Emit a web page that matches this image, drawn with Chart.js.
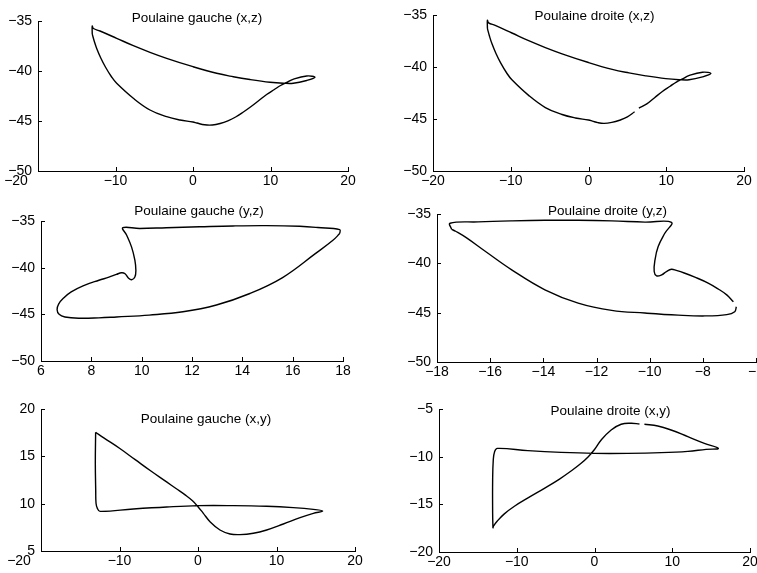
<!DOCTYPE html>
<html>
<head>
<meta charset="utf-8">
<script src="https://cdn.jsdelivr.net/npm/chart.js"></script>
<style>
  body { margin: 0; background: #fff; }
  #fig { position: relative; width: 757px; height: 573px; overflow: hidden; }
  #fig canvas { position: absolute; }
</style>
</head>
<body>
<div id="fig">
  <canvas id="c1"></canvas>
  <canvas id="c2"></canvas>
  <canvas id="c3"></canvas>
  <canvas id="c4"></canvas>
  <canvas id="c5"></canvas>
  <canvas id="c6"></canvas>
</div>
<script>
// Left foot, (x,z) view
var gaucheXZ_x = [-13.0, -13.0, -12.85, -12.0, -9.85, -7.7, -5.55, -3.4, 0, 3.05, 5.2, 7.35, 9.94, 11.65, 12.94, 14.67, 15.74,
                  14.67, 12.9, 12.1, 11.3, 10.5, 9.5, 8.5, 7.5, 6.5, 5.5, 4.5, 3.5, 2.5, 1.5, 0.5, 0, -1.68, -3.4, -5.55, -7.7, -9.85,
                  -10.5, -11.3, -11.9, -12.4, -12.75, -12.95, -13.0];
var gaucheXZ_z = [-36.3, -35.5, -35.75, -36.0, -36.73, -37.47, -38.13, -38.73, -39.57, -40.23, -40.57, -40.85, -41.12, -41.22, -41.23, -40.95, -40.63,
                  -40.5, -40.83, -41.15, -41.45, -41.85, -42.35, -42.95, -43.55, -44.1, -44.6, -44.98, -45.25, -45.4, -45.38, -45.2, -45.1, -44.9, -44.57, -43.9, -42.73, -41.23,
                  -40.6, -39.6, -38.7, -37.8, -37.0, -36.45, -36.3];

// Right foot, (x,z) view (null = missing samples)
var droiteXZ_x = [-13.0, -13.0, -12.85, -12.0, -9.85, -7.7, -5.55, -3.4, 0, 3.05, 5.2, 7.35, 9.94, 11.65, 12.94, 14.67, 15.74,
                  14.67, 12.9, 12.1, 11.3, 10.5, 9.5, 8.5, 7.5, 6.48, null, 5.93, 5.0, 4.0, 3.0, 2.0, 1.2, 0.5, 0, -1.68, -3.4, -5.55, -7.7, -9.85,
                  -10.5, -11.3, -11.9, -12.4, -12.75, -12.95, -13.0];
var droiteXZ_z = [-36.3, -35.5, -35.75, -36.0, -36.73, -37.47, -38.13, -38.73, -39.57, -40.23, -40.57, -40.85, -41.12, -41.22, -41.23, -40.95, -40.63,
                  -40.5, -40.83, -41.15, -41.45, -41.85, -42.35, -42.95, -43.55, -43.95, null, -44.3, -44.8, -45.12, -45.33, -45.42, -45.35, -45.2, -45.1, -44.9, -44.57, -43.9, -42.73, -41.23,
                  -40.6, -39.6, -38.7, -37.8, -37.0, -36.45, -36.3];

// Left foot, (y,z) view
var gaucheYZ_y = [17.87, 17.87, 17.0, 16.28, 14.95, 13.63, 12.3, 10.98, 9.92, 9.25, 9.4, 9.6, 9.73, 9.77, 9.73, 9.6, 9.47, 9.34, 9.2,
                  9.0, 8.7, 8.3, 7.67, 7.2, 6.9, 6.7, 6.64, 6.72, 6.95, 7.5, 8.3, 9.0, 10.3, 11.64, 12.97, 14.3, 15.6, 16.9, 17.6, 17.87];
var gaucheYZ_z = [-36.35, -35.93, -35.7, -35.57, -35.5, -35.53, -35.62, -35.72, -35.8, -35.72, -36.5, -37.8, -39.2, -40.3, -41.0, -41.3, -41.1, -40.65, -40.55,
                  -40.72, -41.02, -41.35, -41.95, -42.6, -43.25, -43.9, -44.5, -45.0, -45.28, -45.42, -45.38, -45.28, -45.08, -44.73, -44.0, -42.77, -41.06, -38.5, -37.07, -36.35];

// Right foot, (y,z) view
var droiteYZ_y = [-17.45, -17.51, -16.45, -15.19, -13.94, -12.69, -11.43, -10.18, -9.18, -9.43, -9.68, -9.8, -9.83, -9.74, -9.55, -9.37, -9.18,
                  -9.0, -8.7, -8.3, -7.8, -7.42, -7.1, -6.85, null, -6.74, -6.8, -7.1, -7.92, -8.93, -10.18, -11.43, -12.69, -13.94, -15.19,
                  -16.2, -16.9, -17.3, -17.45];
var droiteYZ_z = [-36.55, -35.94, -35.8, -35.7, -35.64, -35.64, -35.7, -35.82, -35.84, -36.95, -38.3, -39.65, -40.83, -41.27, -41.17, -40.83, -40.6,
                  -40.72, -40.98, -41.4, -42.0, -42.6, -43.2, -43.9, null, -44.4, -44.9, -45.2, -45.33, -45.25, -45.04, -44.77, -44.03, -42.68, -40.66,
                  -38.75, -37.4, -36.75, -36.55];

// Left foot, (x,y) view
var gaucheXY_x = [-13.04, -13.08, -13.03, -12.99, -12.82, -12.48, -8.24, -4.0, 0, 4.5, 8.75, 12.14, 14.69, 15.88,
                  14.69, 13.0, 10.87, 8.75, 7.05, 5.35, 4.08, 2.8, 1.53, 0.68, 0, -0.7, -1.6, -2.8, -4.0, -6.0, -8.0, -10.0, -12.0, -13.04];
var gaucheXY_y = [17.54, 14.26, 11.44, 10.04, 9.5, 9.19, 9.44, 9.65, 9.79, 9.79, 9.72, 9.58, 9.4, 9.23,
                  8.98, 8.52, 7.85, 7.22, 6.87, 6.73, 6.8, 7.22, 8.1, 8.98, 9.68, 10.3, 10.9, 11.6, 12.3, 13.45, 14.65, 15.85, 16.95, 17.54];

// Right foot, (x,y) view
var droiteXY_x = [-13.06, -13.1, -13.1, -13.02, -12.85, -12.5, -8.57, -4.28, 0, 4.28, 8.57, 12.0, 14.35, 15.93,
                  14.13, 12.0, 9.85, 8.14, 6.42, null, 5.78, 4.71, 3.43, 2.14, 0.86, 0, -0.8, -1.8, -3.0, -4.5, -6.5, -8.5, -10.3, -11.6, -12.5, -13.0, -13.06];
var droiteXY_y = [-17.52, -15.94, -12.45, -10.35, -9.48, -9.13, -9.37, -9.55, -9.65, -9.65, -9.58, -9.44, -9.23, -9.13,
                  -8.6, -7.9, -7.2, -6.78, -6.6, null, -6.57, -6.5, -6.6, -7.2, -8.25, -9.25, -10.0, -10.75, -11.5, -12.35, -13.35, -14.3, -15.2, -16.0, -16.75, -17.3, -17.52];

var PAD_L = 45, PAD_T = 24, PAD_R = 16, PAD_B = 24;
var FONT = 'Liberation Sans';
var TICK_SIZE = 14, TICK_PAD = 2;

// box = [left, top, right, bottom] of the axes in page pixels
var panels = [
  { id: 'c1', title: 'Poulaine gauche (x,z)', xs: gaucheXZ_x, ys: gaucheXZ_z, box: [38, 21, 348, 171], xr: [-20, 20, 10], yr: [-50, -35, 5], tdx: 4, tdy: -3, x0dx: -22 },
  { id: 'c2', title: 'Poulaine droite (x,z)', xs: droiteXZ_x, ys: droiteXZ_z, box: [433, 15, 744, 171], xr: [-20, 20, 10], yr: [-50, -35, 5], tdx: 6, tdy: 1 },
  { id: 'c3', title: 'Poulaine gauche (y,z)', xs: gaucheYZ_y, ys: gaucheYZ_z, box: [41, 221, 343, 361], xr: [6, 18, 2], yr: [-50, -35, 5], tdx: 7, tdy: -10 },
  { id: 'c4', title: 'Poulaine droite (y,z)', xs: droiteYZ_y, ys: droiteYZ_z, box: [437, 214, 756, 362], xr: [-18, -6, 2], yr: [-50, -35, 5], tdx: 11, tdy: -3 },
  { id: 'c5', title: 'Poulaine gauche (x,y)', xs: gaucheXY_x, ys: gaucheXY_y, box: [41, 409, 355, 551], xr: [-20, 20, 10], yr: [5, 20, 5], tdx: 8, tdy: 10, x0dx: -22 },
  { id: 'c6', title: 'Poulaine droite (x,y)', xs: droiteXY_x, ys: droiteXY_y, box: [439, 409, 750, 552], xr: [-20, 20, 10], yr: [-20, -5, 5], tdx: 16, tdy: 2 }
];

function fmt(v) { return String(v).replace('-', '\u2212'); }

// MATLAB style: ticks pointing into the axes, title drawn over the top of the plot
var matlabAxes = {
  id: 'matlabAxes',
  afterDraw: function (chart, args, opts) {
    var ctx = chart.ctx, a = chart.chartArea, sx = chart.scales.x, sy = chart.scales.y;
    ctx.save();
    ctx.strokeStyle = '#000';
    ctx.lineWidth = 1;
    ctx.beginPath();
    sx.ticks.forEach(function (t) {
      var px = Math.round(sx.getPixelForValue(t.value)) + 0.5;
      ctx.moveTo(px, a.bottom); ctx.lineTo(px, a.bottom - 4);
    });
    sy.ticks.forEach(function (t) {
      var py = Math.round(sy.getPixelForValue(t.value)) + 0.5;
      ctx.moveTo(a.left, py); ctx.lineTo(a.left + 4, py);
    });
    ctx.stroke();
    ctx.fillStyle = '#000';
    ctx.textAlign = 'center';
    ctx.textBaseline = 'middle';
    // first x label sits left of the corner in the left column
    if (opts.x0dx) {
      ctx.font = TICK_SIZE + 'px "' + FONT + '"';
      ctx.fillText(fmt(sx.min), a.left + opts.x0dx, a.bottom + TICK_PAD + TICK_SIZE * 0.6);
    }
    ctx.font = '13.5px "' + FONT + '"';
    ctx.fillText(opts.text, (a.left + a.right) / 2 + opts.dx, a.top + opts.dy);
    ctx.restore();
  }
};

panels.forEach(function (p) {
  var w = p.box[2] - p.box[0], h = p.box[3] - p.box[1];
  var cv = document.getElementById(p.id);
  cv.width = w + PAD_L + PAD_R;
  cv.height = h + PAD_T + PAD_B;
  cv.style.left = (p.box[0] - PAD_L) + 'px';
  cv.style.top = (p.box[1] - PAD_T) + 'px';

  var pts = p.xs.map(function (v, i) { return { x: v, y: p.ys[i] }; });
  var tickFont = { family: FONT, size: TICK_SIZE };

  new Chart(cv.getContext('2d'), {
    type: 'scatter',
    data: {
      datasets: [{
        data: pts,
        showLine: true,
        borderColor: '#000',
        borderWidth: 1.4,
        pointRadius: 0,
        tension: 0.4,
        spanGaps: false
      }]
    },
    options: {
      responsive: false,
      animation: false,
      events: [],
      layout: { padding: { left: 0, top: PAD_T, right: PAD_R, bottom: 0 } },
      plugins: {
        legend: { display: false },
        tooltip: { enabled: false },
        matlabAxes: { text: p.title, dx: p.tdx, dy: p.tdy, x0dx: p.x0dx || 0 }
      },
      scales: {
        x: {
          type: 'linear', position: 'bottom',
          min: p.xr[0], max: p.xr[1],
          ticks: {
            stepSize: p.xr[2], color: '#000', font: tickFont, padding: TICK_PAD, maxRotation: 0, autoSkip: false,
            callback: function (v, i) { return (i === 0 && p.x0dx) ? '' : fmt(v); }
          },
          grid: { display: false, drawTicks: false },
          border: { display: true, color: '#000', width: 1 },
          afterFit: function (s) { s.height = PAD_B; s.paddingLeft = 0; s.paddingRight = 0; }
        },
        y: {
          type: 'linear', position: 'left',
          min: p.yr[0], max: p.yr[1],
          ticks: { stepSize: p.yr[2], color: '#000', font: tickFont, padding: 6, autoSkip: false, callback: fmt },
          grid: { display: false, drawTicks: false },
          border: { display: true, color: '#000', width: 1 },
          afterFit: function (s) { s.width = PAD_L; s.paddingTop = 0; s.paddingBottom = 0; }
        }
      }
    },
    plugins: [matlabAxes]
  });
});
</script>
</body>
</html>
